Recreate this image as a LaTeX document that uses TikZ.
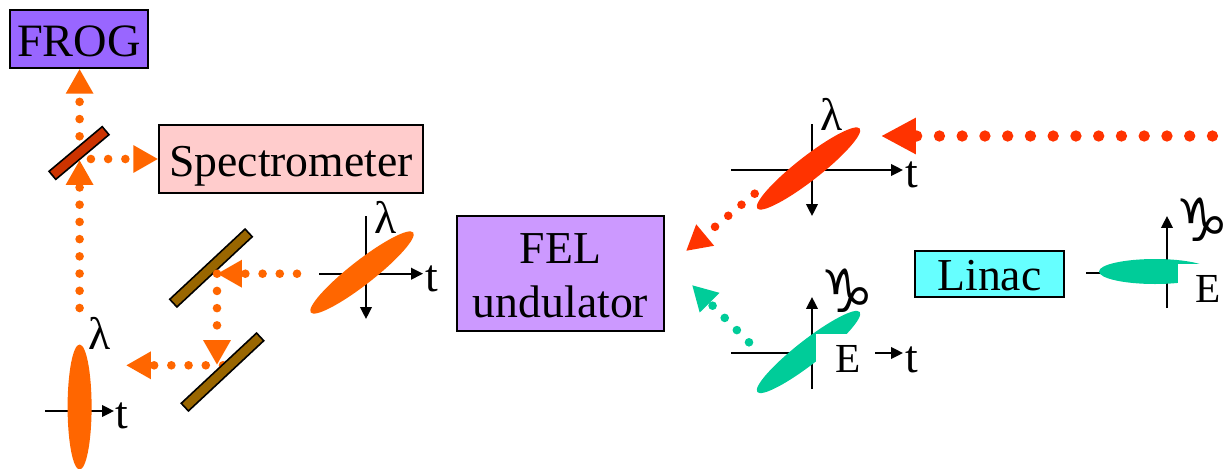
\documentclass[tikz,border=0pt]{standalone}
\usepackage{fontspec}
\setmainfont{Liberation Serif}
\newfontfamily\capfont{DejaVu Sans}
\usetikzlibrary{shapes.geometric,arrows.meta}

\definecolor{beamorange}{HTML}{FF6600}
\definecolor{beamred}{HTML}{FF3300}
\definecolor{beamgreen}{HTML}{00CC99}
\definecolor{frogfill}{HTML}{9966FF}
\definecolor{specfill}{HTML}{FFCCCC}
\definecolor{felfill}{HTML}{CC99FF}
\definecolor{linacfill}{HTML}{66FFFF}
\definecolor{splitfill}{HTML}{CC3300}
\definecolor{mirrorfill}{HTML}{996600}

\begin{document}
\begin{tikzpicture}[
    x=0.02cm, y=-0.02cm,
    font=\fontsize{26}{28}\selectfont,
    >={Triangle[length=6.8pt,width=6.6pt]},
    box/.style={rectangle, draw=black, line width=0.9pt, inner sep=0pt, align=center},
    mirror/.style={rectangle, draw=black, line width=0.9pt, inner sep=0pt, minimum height=0.21cm},
    pulse/.style={ellipse, inner sep=0pt, minimum width=2.6cm, minimum height=0.48cm},
    axis/.style={line width=1.1pt},
    txt/.style={inner sep=0pt},
    smalltxt/.style={inner sep=0pt, font=\fontsize{23.5}{26}\selectfont},
    captxt/.style={inner sep=0pt, font=\fontsize{34}{38}\selectfont\capfont},
    whitebox/.style={fill=white, inner sep=0pt},
    beam/.style={line width=4.9pt, line cap=round, dash pattern=on 0pt off 9.8pt,
        -{Triangle[length=14.2pt,width=14.8pt]}}
]
\clip (0,0) rectangle (1228,468);

% Boxes
\node[box, fill=frogfill, minimum width=2.76cm, minimum height=1.16cm, text height=20.4pt, text depth=0pt, font=\fontsize{26.4}{28}\selectfont] (frog) at (79,39) {FROG};
\node[box, fill=specfill, minimum width=5.28cm, minimum height=1.36cm, text height=20.4pt, text depth=0pt] (spec) at (291,159) {Spectrometer};
\node[box, fill=felfill, minimum width=4.14cm, minimum height=2.3cm] (fel) at (560.5,273.5) {\rule{0pt}{19.8pt}FEL\\[2.8pt]undulator};
\node[box, fill=linacfill, minimum width=2.98cm, minimum height=0.92cm, text height=19pt, text depth=0pt] (linac) at (989.5,274) {Linac};

% Beam points
\coordinate (splitter) at (79.6,153.5);
\coordinate (splitside) at (73.7,159);
\coordinate (fold1) at (217,273.7);
\coordinate (fold2) at (217,365);
\coordinate (fold2out) at (223,365.3);
\coordinate (fold2end) at (126,365.3);
\coordinate (tailA) at (79.6,308);
\coordinate (headA) at (79.6,160);
\coordinate (tailB) at (297,273.7);
\coordinate (tailC) at (1235.2,136);
\coordinate (headC) at (881,136);
\coordinate (tailD) at (754.7,193.7);
\coordinate (headD) at (686,251);
\coordinate (tailE) at (749,342.3);
\coordinate (headE) at (692,285);

% Axes
\draw[axis, ->] (319,273.7) -- (423,273.7);
\draw[axis, ->] (366,216) -- (366,319);
\draw[axis, ->] (45,411) -- (114,411);
\draw[axis, ->] (731,170) -- (903,170);
\draw[axis, ->] (812,124) -- (812,216);
\draw[axis] (731,353) -- (875,353);
\draw[axis, ->] (812,389) -- (812,297);
\draw[axis] (1086,273) -- (1178,273);
\draw[axis, ->] (1167,308) -- (1167,216);

% Pulses
\node[pulse, fill=beamorange, rotate=38] (pulseA) at (362,272.5) {};
\node[pulse, fill=beamorange, minimum width=2.5cm, rotate=90] (pulseB) at (79.6,407) {};
\node[pulse, fill=beamred, rotate=38] (pulseC) at (808.5,168.5) {};
\node[pulse, fill=beamgreen, rotate=38] (pulseD) at (808.5,352) {};
\node[pulse, fill=beamgreen, minimum width=2.24cm, minimum height=0.5cm] (pulseE) at (1155,271.5) {};

% Labels
\node[txt] (tA) at (432,279) {t};
\node[txt] (lamA) at (385.5,217.5) {λ};
\node[txt] (tB) at (122,416) {t};
\node[txt] (lamB) at (99.5,333) {λ};
\node[txt] (tC) at (912,175) {t};
\node[txt] (lamC) at (832,114.5) {λ};
\node[whitebox, anchor=north west, minimum width=1.18cm, minimum height=1.02cm] (eD) at (816,334) {};
\node[smalltxt] (eDtext) at (848,358.5) {E};
\node[txt] (tD) at (912,360) {t};
\draw[axis, ->] (875,353) -- (903,353);
\node[captxt] (capD) at (847,291) {♑};
\node[whitebox, anchor=north west, minimum width=1.0cm, minimum height=1.0cm] (eE) at (1178,264) {};
\node[smalltxt] (eEtext) at (1208.5,289) {E};
\node[captxt] (capE) at (1202,220) {♑};

% Beams under the mirrors
\draw[beam, beamorange] (splitter) -- (frog.south -| splitter);
\draw[beam, beamorange] (splitside) -- (spec.west |- splitside);
\draw[beam, beamorange] (fold2out) -- (fold2end);

% Mirrors
\node[mirror, fill=splitfill, minimum width=1.39cm, rotate=40] (mirrorA) at (79,153) {};
\node[mirror, fill=mirrorfill, minimum width=2.06cm, rotate=43] (mirrorB) at (211,268) {};
\node[mirror, fill=mirrorfill, minimum width=2.06cm, rotate=43] (mirrorC) at (222.5,372) {};

% Beams over the mirrors
\draw[beam, beamorange] (tailA) -- (headA);
\draw[beam, beamorange] (tailB) -- (fold1);
\draw[beam, beamorange] (fold1) -- (fold2);
\draw[beam, beamred, line width=6.46pt, dash pattern=on 0pt off 12.95pt, -{Triangle[length=19.8pt,width=19.3pt]}] (tailC) -- (headC);
\draw[beam, beamred] (tailD) -- (headD);
\draw[beam, beamgreen] (tailE) -- (headE);

\end{tikzpicture}
\end{document}
